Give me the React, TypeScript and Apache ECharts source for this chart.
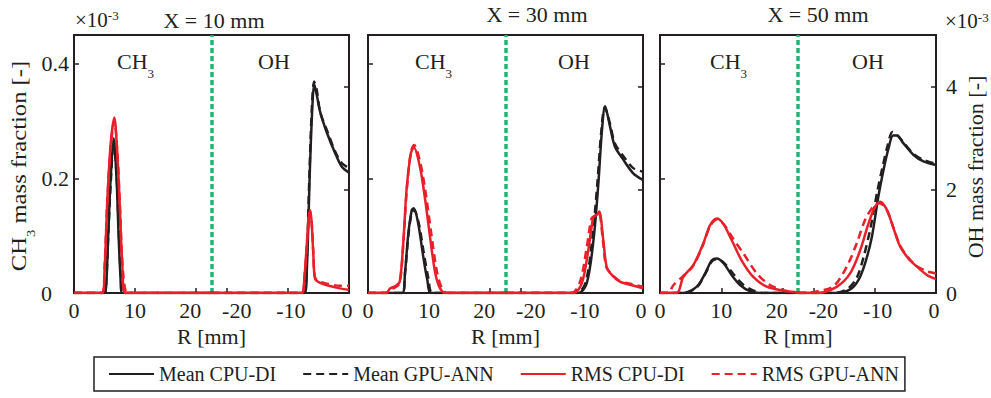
import React, { useEffect, useRef } from 'react';
import * as echarts from 'echarts';

// ---------- data (R in mm, mass fraction ×1e-3) ----------
const OFFSET = 45; // OH half: axis x = OFFSET + R (R <= 0)
const SPLIT = 22.5; // boundary between CH3 half and OH half

const panelTitles = ['X = 10 mm', 'X = 30 mm', 'X = 50 mm'];
const seriesNames = ['Mean CPU-DI', 'Mean GPU-ANN', 'RMS CPU-DI', 'RMS GPU-ANN'];
const xTickValues = [0, 10, 20, 25, 35, 45];
const ch3TickValues = [0, 0.2, 0.4];
const ohTickValues = [0, 2, 4];

// X = 10 mm
const x10Ch3MeanCpu = [[0, 0], [5.0, 0], [5.3, 0.02], [5.6, 0.1], [6.0, 0.2], [6.5, 0.27], [7.0, 0.19], [7.3, 0.1], [7.6, 0.03], [7.9, 0], [22.5, 0]];
const x10Ch3MeanGpu = [[0, 0], [5.0, 0], [5.3, 0.025], [5.6, 0.1], [6.0, 0.19], [6.5, 0.265], [7.0, 0.2], [7.35, 0.1], [7.7, 0.025], [8.0, 0], [22.5, 0]];
const x10Ch3RmsCpu = [[0, 0], [4.6, 0], [5.0, 0.04], [5.45, 0.16], [6.0, 0.26], [6.6, 0.306], [7.1, 0.24], [7.5, 0.15], [7.9, 0.05], [8.4, 0], [22.5, 0]];
const x10Ch3RmsGpu = [[0, 0], [4.6, 0], [5.0, 0.045], [5.45, 0.16], [6.0, 0.255], [6.6, 0.3], [7.1, 0.245], [7.5, 0.155], [7.9, 0.055], [8.4, 0.005], [9.0, 0], [22.5, 0]];
const x10OhMeanCpu = [[-22.5, 0], [-7.3, 0], [-6.9, 0.45], [-6.4, 2.39], [-6.0, 3.6], [-5.7, 4.05], [-5.3, 3.85], [-4.7, 3.5], [-3.6, 3.1], [-2.3, 2.72], [-1.2, 2.45], [0, 2.33]];
const x10OhMeanGpu = [[-22.5, 0], [-7.35, 0], [-6.95, 0.5], [-6.45, 2.4], [-6.05, 3.65], [-5.7, 4.1], [-5.3, 3.95], [-4.7, 3.5], [-3.6, 3.15], [-2.3, 2.75], [-1.2, 2.52], [0, 2.42]];
const x10OhRmsCpu = [[-22.5, 0], [-7.75, 0], [-7.3, 0.3], [-7.0, 0.78], [-6.6, 1.45], [-6.35, 1.61], [-6.1, 1.35], [-5.85, 0.78], [-5.55, 0.27], [-4.8, 0.2], [-3.6, 0.15], [-1.5, 0.09], [0, 0.06]];
const x10OhRmsGpu = [[-22.5, 0], [-7.75, 0], [-7.3, 0.3], [-7.0, 0.75], [-6.6, 1.4], [-6.35, 1.58], [-6.1, 1.35], [-5.85, 0.8], [-5.55, 0.3], [-4.8, 0.22], [-3.6, 0.18], [-1.5, 0.14], [0, 0.14]];

// X = 30 mm
const x30Ch3MeanCpu = [[0, 0], [5.6, 0], [6.05, 0.035], [6.6, 0.104], [7.15, 0.144], [7.5, 0.148], [8.2, 0.122], [9.05, 0.063], [9.7, 0.023], [10.4, 0], [22.5, 0]];
const x30Ch3MeanGpu = [[0, 0], [5.6, 0], [6.05, 0.033], [6.6, 0.1], [7.15, 0.14], [7.5, 0.145], [8.3, 0.122], [9.2, 0.065], [9.9, 0.025], [10.6, 0], [22.5, 0]];
const x30Ch3RmsCpu = [[0, 0], [3.0, 0], [3.6, 0.008], [4.5, 0.012], [5.2, 0.02], [5.8, 0.092], [6.3, 0.179], [7.0, 0.243], [7.5, 0.254], [8.5, 0.22], [9.3, 0.167], [10.15, 0.098], [11.0, 0.035], [11.8, 0.008], [12.7, 0], [22.5, 0]];
const x30Ch3RmsGpu = [[0, 0], [3.0, 0], [3.6, 0.006], [4.5, 0.01], [5.2, 0.018], [5.8, 0.09], [6.35, 0.18], [7.0, 0.245], [7.55, 0.258], [8.6, 0.225], [9.5, 0.17], [10.4, 0.1], [11.3, 0.036], [12.1, 0.008], [13.0, 0], [22.5, 0]];
const x30OhMeanCpu = [[-22.5, 0], [-10.6, 0], [-9.2, 0.19], [-8.1, 1.03], [-7.3, 2.13], [-6.75, 3.1], [-6.2, 3.62], [-5.4, 3.23], [-4.6, 2.84], [-3.2, 2.58], [-1.6, 2.32], [0, 2.19]];
const x30OhMeanGpu = [[-22.5, 0], [-10.8, 0], [-9.4, 0.2], [-8.3, 1.05], [-7.45, 2.15], [-6.85, 3.1], [-6.25, 3.6], [-5.4, 3.28], [-4.6, 2.9], [-3.2, 2.65], [-1.6, 2.42], [0, 2.35]];
const x30OhRmsCpu = [[-22.5, 0], [-11.4, 0], [-10.0, 0.19], [-8.95, 0.83], [-8.1, 1.48], [-7.5, 1.52], [-7.15, 1.58], [-6.5, 1.03], [-5.95, 0.51], [-5.1, 0.35], [-3.8, 0.22], [-2.1, 0.16], [0, 0.09]];
const x30OhRmsGpu = [[-22.5, 0], [-11.7, 0], [-10.3, 0.22], [-9.25, 0.85], [-8.4, 1.45], [-7.7, 1.5], [-7.2, 1.55], [-6.55, 1.0], [-6.0, 0.5], [-5.1, 0.36], [-3.8, 0.23], [-2.1, 0.18], [0, 0.12]];

// X = 50 mm
const x50Ch3MeanCpu = [[0, 0], [3.8, 0], [6.0, 0.011], [7.35, 0.034], [8.45, 0.057], [9.25, 0.06], [10.35, 0.052], [11.7, 0.031], [13.05, 0.014], [14.7, 0.003], [16.3, 0], [22.5, 0]];
const x50Ch3MeanGpu = [[0, 0], [3.8, 0], [6.0, 0.01], [7.35, 0.033], [8.45, 0.055], [9.25, 0.059], [10.4, 0.053], [11.9, 0.034], [13.3, 0.017], [14.9, 0.006], [16.8, 0], [22.5, 0]];
const x50Ch3RmsCpu = [[0, 0], [2.7, 0], [3.8, 0.028], [5.45, 0.049], [7.05, 0.086], [8.15, 0.118], [9.25, 0.13], [10.3, 0.121], [11.7, 0.092], [13.3, 0.057], [15.2, 0.028], [17.4, 0.011], [20.1, 0.004], [22.5, 0.001]];
const x50Ch3RmsGpu = [[0, 0], [1.3, 0], [2.2, 0.014], [3.8, 0.03], [5.45, 0.048], [7.05, 0.085], [8.15, 0.116], [9.25, 0.128], [10.4, 0.12], [11.9, 0.095], [13.6, 0.069], [15.8, 0.034], [17.9, 0.014], [20.1, 0.005], [22.5, 0.001]];
const x50OhMeanCpu = [[-22.5, 0], [-16.2, 0], [-14.0, 0.07], [-12.65, 0.25], [-11.55, 0.58], [-10.45, 1.09], [-9.4, 1.87], [-8.55, 2.39], [-7.75, 2.8], [-7.0, 3.05], [-6.4, 3.05], [-5.3, 2.9], [-3.7, 2.68], [-2.05, 2.55], [0, 2.48]];
const x50OhMeanGpu = [[-22.5, 0], [-16.6, 0], [-14.3, 0.09], [-12.9, 0.3], [-11.8, 0.7], [-10.7, 1.25], [-9.6, 1.95], [-8.7, 2.45], [-7.9, 2.85], [-7.1, 3.12], [-6.5, 3.08], [-5.3, 2.92], [-3.7, 2.7], [-2.05, 2.58], [0, 2.5]];
const x50OhRmsCpu = [[-22.5, 0], [-19.4, 0], [-16.2, 0.12], [-14.0, 0.38], [-12.35, 0.83], [-11.0, 1.35], [-9.9, 1.68], [-9.1, 1.77], [-8.0, 1.61], [-6.95, 1.26], [-5.85, 0.9], [-4.5, 0.67], [-3.1, 0.51], [-1.5, 0.35], [0, 0.27]];
const x50OhRmsGpu = [[-22.5, 0], [-20.5, 0.01], [-19.4, 0.03], [-16.7, 0.13], [-14.55, 0.51], [-12.9, 0.97], [-11.55, 1.42], [-10.2, 1.68], [-9.2, 1.74], [-8.0, 1.6], [-6.95, 1.27], [-5.85, 0.92], [-4.5, 0.68], [-3.1, 0.52], [-1.5, 0.42], [0, 0.38]];

const ch3Data = [
  [x10Ch3MeanCpu, x10Ch3MeanGpu, x10Ch3RmsCpu, x10Ch3RmsGpu],
  [x30Ch3MeanCpu, x30Ch3MeanGpu, x30Ch3RmsCpu, x30Ch3RmsGpu],
  [x50Ch3MeanCpu, x50Ch3MeanGpu, x50Ch3RmsCpu, x50Ch3RmsGpu],
];
const ohData = [
  [x10OhMeanCpu, x10OhMeanGpu, x10OhRmsCpu, x10OhRmsGpu],
  [x30OhMeanCpu, x30OhMeanGpu, x30OhRmsCpu, x30OhRmsGpu],
  [x50OhMeanCpu, x50OhMeanGpu, x50OhRmsCpu, x50OhRmsGpu],
];

// ---------- styling ----------
const FONT = "'Liberation Serif', 'Times New Roman', serif";
const INK = '#231f20';
const RED = '#e8202a';
const GREEN = '#22b573';
const LINE_STYLES = [
  { color: INK, type: 'solid' as any },
  { color: INK, type: [8, 5] as any },
  { color: RED, type: 'solid' as any },
  { color: RED, type: [8, 5] as any },
];

const GRIDS = [
  { left: 74, top: 35, width: 275, height: 258 },
  { left: 368, top: 35, width: 275, height: 258 },
  { left: 660, top: 35, width: 276, height: 258 },
];

const titlePos = [
  [214, 20],
  [537, 14],
  [818, 14],
];
const speciesLabelPos = [
  [117, 258],
  [415, 558],
  [710, 852],
];

const SUB_RICH = {
  a: { fontSize: 22, fontFamily: FONT, lineHeight: 22, verticalAlign: 'top', fill: INK, color: INK },
  s: { fontSize: 13, fontFamily: FONT, lineHeight: 30, verticalAlign: 'bottom', fill: INK, color: INK },
};

// label nudges (px) mimicking the reference's label placement
const labelRich = {
  l3: { fontSize: 22, fontFamily: FONT, color: INK, padding: [0, 6, 0, 0] },
  l6: { fontSize: 22, fontFamily: FONT, color: INK, padding: [0, 12, 0, 0] },
  r6: { fontSize: 22, fontFamily: FONT, color: INK, padding: [0, 0, 0, 6] },
  r20: { fontSize: 22, fontFamily: FONT, color: INK, padding: [0, 0, 0, 20] },
  l4: { fontSize: 22, fontFamily: FONT, color: INK, padding: [0, 4, 0, 0] },
};

function buildOption() {
  const textBase = { fontFamily: FONT, color: INK };

  const grid = GRIDS.map((g) => ({
    ...g,
    show: true,
    borderColor: INK,
    borderWidth: 2,
    backgroundColor: 'transparent',
    containLabel: false,
    outerBoundsMode: 'none',
  }));

  const fmtX = (v: number) => {
    if (!xTickValues.some((t) => Math.abs(t - v) < 1e-6)) return '';
    const r = Math.round(v <= SPLIT ? v : v - OFFSET);
    const s = String(r === 0 ? 0 : r);
    if (v === 20) return `{l6|${s}}`;
    if (v === 25) return `{r20|${s}}`;
    if (v === 35) return `{r6|${s}}`;
    if (v === 45) return `{l4|${s}}`;
    return s;
  };

  const xAxis = GRIDS.map((_, i) => ({
    type: 'value',
    gridIndex: i,
    min: 0,
    max: OFFSET,
    axisLine: { show: false },
    splitLine: { show: false },
    axisTick: {
      show: true,
      inside: true,
      length: 5,
      customValues: xTickValues,
      lineStyle: { color: INK, width: 1.5 },
    },
    axisLabel: {
      customValues: xTickValues,
      formatter: fmtX,
      margin: 6,
      fontSize: 22,
      ...textBase,
      rich: labelRich,
    },
    name: 'R [mm]',
    nameLocation: 'middle',
    nameGap: 29,
    nameTextStyle: { fontSize: 22, ...textBase },
  }));

  const leftY = GRIDS.map((_, i) => ({
    type: 'value',
    gridIndex: i,
    position: 'left',
    min: 0,
    max: 0.45,
    axisLine: { show: false },
    splitLine: { show: false },
    axisTick: {
      show: true,
      inside: true,
      length: 5,
      customValues: ch3TickValues,
      lineStyle: { color: INK, width: 1.5 },
    },
    axisLabel: {
      show: i === 0,
      customValues: ch3TickValues,
      margin: 5,
      fontSize: 22,
      ...textBase,
      formatter: (v: number) => {
        if (!ch3TickValues.some((t) => Math.abs(t - v) < 1e-6)) return '';
        return v === 0 ? '{z|0}' : String(+v.toFixed(1));
      },
      rich: { z: { fontSize: 22, fontFamily: FONT, color: INK, padding: [0, 17, 0, 0] } },
    },
  }));

  const rightY = GRIDS.map((_, i) => ({
    type: 'value',
    gridIndex: i,
    position: 'right',
    min: 0,
    max: 5,
    axisLine: { show: false },
    splitLine: { show: false },
    axisTick: {
      show: true,
      inside: true,
      length: 5,
      customValues: ohTickValues,
      lineStyle: { color: INK, width: 1.5 },
    },
    axisLabel: {
      show: i === 2,
      customValues: ohTickValues,
      margin: 10,
      fontSize: 22,
      ...textBase,
      formatter: (v: number) => (ohTickValues.some((t) => Math.abs(t - v) < 1e-6) ? String(v) : ''),
    },
  }));

  const series: any[] = [];
  for (let p = 0; p < 3; p++) {
    for (let k = 0; k < 4; k++) {
      const ls = LINE_STYLES[k];
      const base = {
        type: 'line',
        name: seriesNames[k],
        xAxisIndex: p,
        showSymbol: false,
        symbol: 'none',
        smooth: 0.3,
        silent: true,
        color: ls.color,
        lineStyle: { color: ls.color, width: 2.5, type: ls.type },
        z: 3 + k,
      };
      const ch3: any = {
        ...base,
        yAxisIndex: p,
        data: ch3Data[p][k].map(([r, v]) => [r, v]),
      };
      if (k === 0) {
        ch3.markLine = {
          silent: true,
          symbol: 'none',
          label: { show: false },
          lineStyle: { color: GREEN, width: 3.5, type: [5, 3] },
          data: [{ xAxis: SPLIT }],
          z: 2,
        };
      }
      series.push(ch3);
      series.push({
        ...base,
        yAxisIndex: 3 + p,
        data: ohData[p][k].map(([r, v]) => [OFFSET + r, v]),
      });
    }
  }

  const plain = (x: number, y: number, text: string, align = 'center', size = 22) => ({
    type: 'text',
    x,
    y,
    silent: true,
    style: { text, align, verticalAlign: 'middle', fontSize: size, fontFamily: FONT, fill: INK },
  });

  const sup = (x: number, y: number) => ({
    type: 'text',
    x,
    y,
    silent: true,
    style: {
      text: '{a|×10}{s|-3}',
      align: 'left',
      verticalAlign: 'top',
      fill: INK,
      rich: {
        a: { fontSize: 21, fontFamily: FONT, lineHeight: 21, verticalAlign: 'top', fill: INK },
        s: { fontSize: 13, fontFamily: FONT, lineHeight: 14, verticalAlign: 'top', fill: INK },
      },
    },
  });

  const graphic: any[] = [];
  panelTitles.forEach((t, i) => graphic.push(plain(titlePos[i][0], titlePos[i][1], t)));
  speciesLabelPos.forEach(([cx, ox]) => {
    graphic.push({
      type: 'text',
      x: cx,
      y: 50,
      silent: true,
      style: { text: '{a|CH}{s|3}', align: 'left', verticalAlign: 'top', fill: INK, rich: SUB_RICH },
    });
    graphic.push({
      type: 'text',
      x: ox,
      y: 50,
      silent: true,
      style: { text: 'OH', align: 'left', verticalAlign: 'top', fontSize: 22, lineHeight: 22, fontFamily: FONT, fill: INK },
    });
  });
  graphic.push(sup(75, 9));
  graphic.push(sup(945, 10.5));
  // left y-axis title (rotated)
  graphic.push({
    type: 'text',
    x: 7.5,
    y: 166,
    rotation: Math.PI / 2,
    scaleX: 1.12,
    silent: true,
    style: {
      text: '{a|CH}{s|3}{a| mass fraction [-]}',
      align: 'center',
      verticalAlign: 'top',
      fill: INK,
      rich: SUB_RICH,
    },
  });
  // right y-axis title (rotated)
  graphic.push({
    type: 'text',
    x: 975.5,
    y: 167,
    rotation: Math.PI / 2,
    silent: true,
    style: { text: 'OH mass fraction [-]', align: 'center', verticalAlign: 'middle', fontSize: 22, fontFamily: FONT, fill: INK },
  });

  return {
    animation: false,
    backgroundColor: '#ffffff',
    grid,
    xAxis,
    yAxis: [...leftY, ...rightY],
    legend: {
      data: seriesNames,
      left: 94,
      top: 357,
      orient: 'horizontal',
      itemWidth: 45,
      itemHeight: 14,
      itemGap: 26,
      padding: [7, 6, 7, 14],
      borderColor: INK,
      borderWidth: 1.5,
      selectedMode: false,
      itemStyle: { color: 'transparent', borderColor: 'transparent', borderWidth: 0, opacity: 0 },
      textStyle: { fontSize: 20, fontFamily: FONT, color: INK },
    },
    series,
    graphic,
  };
}

export default function App() {
  const ref = useRef<HTMLDivElement>(null);
  useEffect(() => {
    if (!ref.current) return;
    const chart = echarts.init(ref.current, undefined, { renderer: 'svg' });
    chart.setOption(buildOption() as any);
    return () => chart.dispose();
  }, []);
  return (
    <div
      ref={ref}
      style={{ position: 'absolute', left: 0, top: 0, width: 991, height: 398, background: '#fff' }}
    />
  );
}
